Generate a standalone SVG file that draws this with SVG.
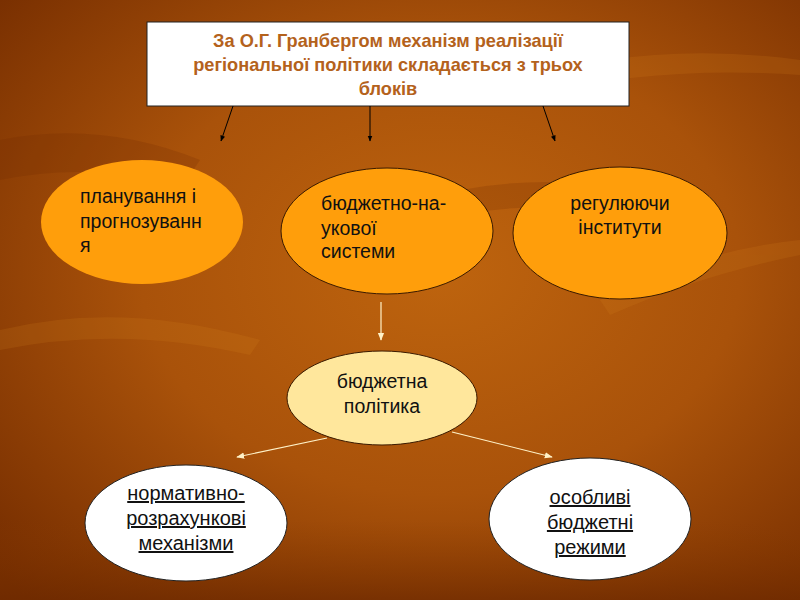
<svg xmlns="http://www.w3.org/2000/svg" width="800" height="600" viewBox="0 0 800 600">
<defs>
<radialGradient id="bg" cx="0.55" cy="0.45" r="0.75">
<stop offset="0" stop-color="#BE640E"/>
<stop offset="0.5" stop-color="#A9520A"/>
<stop offset="1" stop-color="#742C00"/>
</radialGradient>
<linearGradient id="band" x1="0" y1="0" x2="0" y2="1">
<stop offset="0" stop-color="#8A3C00" stop-opacity="0"/>
<stop offset="1" stop-color="#6E2A00" stop-opacity="0.7"/>
</linearGradient>
<marker id="ab" viewBox="0 0 10 10" refX="9" refY="5" markerWidth="6" markerHeight="6" orient="auto" markerUnits="userSpaceOnUse">
<path d="M0,1 L10,5 L0,9 z" fill="#000"/>
</marker>
<marker id="ac" viewBox="0 0 10 10" refX="9" refY="5" markerWidth="8" markerHeight="8" orient="auto" markerUnits="userSpaceOnUse">
<path d="M0,1 L10,5 L0,9 z" fill="#FFF2C8"/>
</marker>
</defs>
<style>
.t{font-family:"Liberation Sans",Arial,sans-serif;font-size:19.5px;fill:#111}
.h{font-family:"Liberation Sans",Arial,sans-serif;font-size:18.2px;font-weight:bold;fill:#B4621C}
.u{text-decoration:underline;font-size:20px}
.c{text-anchor:middle}
.o{fill:#FF9E0B;stroke:#3A1A00;stroke-width:1}
.k{stroke:#000;stroke-width:1;fill:none}
.l{stroke:#FFF2C8;stroke-width:1.2;fill:none}
</style>
<rect width="800" height="600" fill="url(#bg)"/>
<g opacity="0.15" fill="#E08A20">
<path d="M0,330 Q120,300 260,340 L250,355 Q120,325 0,350 z"/>
<path d="M520,80 Q650,40 800,60 L800,75 Q660,65 530,95 z"/>
<path d="M600,300 Q700,250 800,240 L800,255 Q700,275 610,315 z"/>
</g>
<g opacity="0.2" fill="#6E2A00">
<path d="M0,140 Q100,120 200,160 L180,190 Q100,160 0,180 z"/>
<path d="M420,200 Q520,170 640,190 L630,210 Q520,200 430,220 z"/>
</g>
<rect y="520" width="800" height="80" fill="url(#band)"/>
<g id="title">
<rect x="147" y="22" width="482" height="84" fill="#FFFFFF" stroke="#222" stroke-width="1"/>
<text class="h c" x="388" y="47">За О.Г. Гранбергом механізм реалізації</text>
<text class="h c" x="388" y="71">регіональної політики складається  з трьох</text>
<text class="h c" x="388" y="95">блоків</text>
</g>
<g id="connectors">
<line class="k" x1="233" y1="106" x2="221" y2="141" marker-end="url(#ab)"/>
<line class="k" x1="370" y1="106" x2="370" y2="141" marker-end="url(#ab)"/>
<line class="k" x1="543" y1="106" x2="555" y2="141" marker-end="url(#ab)"/>
<line class="l" x1="381" y1="302" x2="381" y2="340" marker-end="url(#ac)"/>
<line class="l" x1="327" y1="438" x2="237" y2="457" marker-end="url(#ac)"/>
<line class="l" x1="452" y1="432" x2="552" y2="457" marker-end="url(#ac)"/>
</g>
<g id="n1">
<ellipse cx="142" cy="222" rx="101" ry="62" fill="#FF9E0B"/>
<text class="t" x="80" y="203">планування і</text>
<text class="t" x="80" y="228">прогнозуванн</text>
<text class="t" x="80" y="252">я</text>
</g>
<g id="n2">
<ellipse class="o" cx="387" cy="231" rx="106" ry="63"/>
<text class="t" x="321" y="210">бюджетно-на-</text>
<text class="t" x="321" y="235">укової</text>
<text class="t" x="321" y="258">системи</text>
</g>
<g id="n3">
<ellipse class="o" cx="620" cy="233" rx="107" ry="66"/>
<text class="t c" x="620" y="210">регулюючи</text>
<text class="t c" x="620" y="234">інститути</text>
</g>
<g id="n4">
<ellipse cx="382" cy="398" rx="95" ry="47" fill="#FFE79C" stroke="#3A1A00" stroke-width="1"/>
<text class="t c" x="382" y="388">бюджетна</text>
<text class="t c" x="382" y="413">політика</text>
</g>
<g id="n5">
<ellipse cx="186" cy="523" rx="101" ry="58" fill="#FFFFFF" stroke="#222" stroke-width="1"/>
<text class="t u c" x="186" y="500">нормативно-</text>
<text class="t u c" x="186" y="525">розрахункові</text>
<text class="t u c" x="186" y="550">механізми</text>
</g>
<g id="n6">
<ellipse cx="590" cy="519" rx="101" ry="61" fill="#FFFFFF" stroke="#222" stroke-width="1"/>
<text class="t u c" x="590" y="504">особливі</text>
<text class="t u c" x="590" y="529">бюджетні</text>
<text class="t u c" x="590" y="554">режими</text>
</g>
</svg>
